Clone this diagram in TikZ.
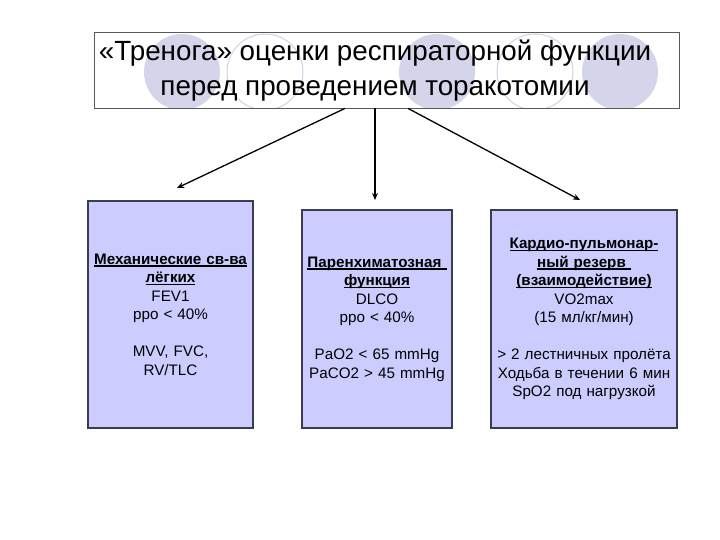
\documentclass[tikz,border=0pt]{standalone}
\usepackage{fontspec}
\setmainfont{Liberation Sans}
\usetikzlibrary{arrows.meta}
\definecolor{boxfill}{RGB}{204,204,255}
\definecolor{boxline}{RGB}{60,60,80}
\definecolor{circfill}{RGB}{212,212,234}
\definecolor{circline}{RGB}{210,210,228}
\tikzset{
  infobox/.style={draw=boxline, line width=1.2pt, fill=boxfill, inner sep=0pt,
    align=center, font=\fontsize{15.2}{18.5}\selectfont},
  link/.style={-{Stealth[length=7pt,width=6pt]}, line width=1.3pt, black},
  fcirc/.style={fill=circfill, draw=none},
  ocirc/.style={fill=white, draw=circline, line width=1pt}
}
\newcommand{\hd}[1]{\textbf{\setbox0\hbox{#1}\rlap{\rule[-2.4pt]{\wd0}{1.1pt}}\box0}}
\begin{document}
\begin{tikzpicture}[x=1pt,y=-1pt]
\useasboundingbox (0,0) rectangle (720,540);
% title background
\fill[white] (94,32) rectangle (679,108);
\begin{scope}
\clip (94,32) rectangle (679,108);
\fill[fcirc] (182,72) circle (38);
\filldraw[ocirc] (265,72) circle (38);
\fill[fcirc] (437,72) circle (38);
\filldraw[ocirc] (535,72) circle (38);
\fill[fcirc] (620,72) circle (38);
\end{scope}
\node[draw=black!65, line width=0.8pt, minimum width=585pt, minimum height=76pt, inner sep=0pt] (title) at (386.5,70) {};
\node[font=\fontsize{27.8}{35}\selectfont, align=center] (titletext) at (375,71)
  {«Тренога» оценки респираторной функции\\перед проведением торакотомии};
% boxes
\node[infobox, minimum width=165pt, minimum height=227pt, text width=165pt] (b1) at (170.5,314.5)
  {\hd{Механические св-ва}\\\hd{лёгких}\\FEV1\\ppo < 40\%\\[18.5pt]MVV, FVC,\\RV/TLC};
\node[infobox, minimum width=150pt, minimum height=218pt, text width=150pt] (b2) at (377,319)
  {\hd{Паренхиматозная\ }\\\hd{функция}\\DLCO\\ppo < 40\%\\[18.5pt]PaO2 < 65 mmHg\\PaCO2 > 45 mmHg};
\node[infobox, minimum width=186pt, minimum height=218pt, text width=186pt] (b3) at (584,319)
  {\hd{Кардио-пульмонар-}\\\hd{ный резерв\ }\\\hd{(взаимодействие)}\\VO2max\\(15 мл/кг/мин)\\[18.5pt]> 2 лестничных пролёта\\Ходьба в течении 6 мин\\SpO2 под нагрузкой};
% arrows
\coordinate (e1) at (177,188);
\coordinate (e2) at (375,200);
\coordinate (e3) at (580,200);
\draw[link] (title.south -| 345,0) -- (e1);
\draw[link] (title.south -| 375,0) -- (e2);
\draw[link] (title.south -| 408,0) -- (e3);
\end{tikzpicture}
\end{document}
